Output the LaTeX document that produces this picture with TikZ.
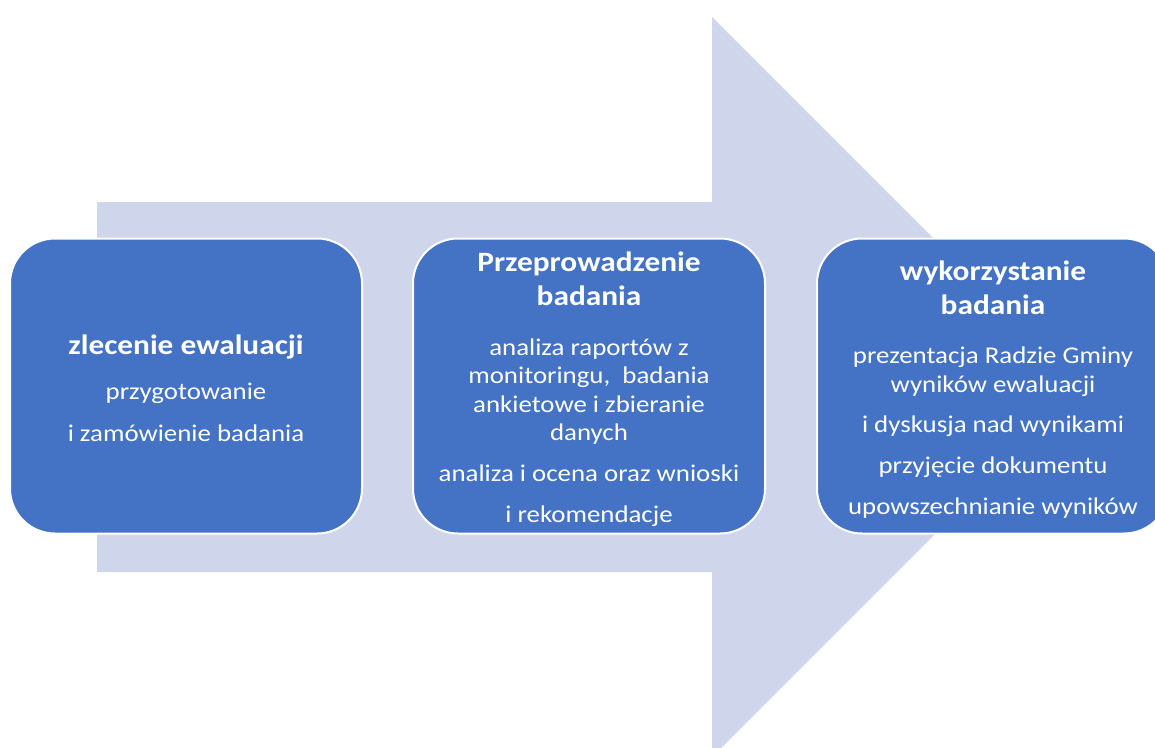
\documentclass[tikz,border=0pt]{standalone}
\usepackage{fontspec}
\setmainfont[FakeStretch=1.12]{Carlito}
\definecolor{arrowbg}{HTML}{CFD5EA}
\definecolor{boxblue}{HTML}{4472C4}
\newcommand{\ttlf}{\bfseries\fontsize{28}{28.5}\selectfont}
\newcommand{\bdyf}{\mdseries\fontsize{24}{28.5}\selectfont}
\tikzset{
  stepbox/.style={draw=white, line width=2pt, fill=boxblue, rounded corners=45pt,
    minimum width=352pt, minimum height=295pt, text=white, align=center, inner sep=0pt,
    font=\bdyf},
}
\begin{document}
\begin{tikzpicture}[x=1pt,y=-1pt]
\useasboundingbox (0,0) rectangle (1155,747);
\clip (0,0) rectangle (1155,747);
\fill[arrowbg] (97,202) -- (712,202) -- (712,17) -- (1082,387) -- (712,757) -- (712,572) -- (97,572) -- cycle;
\node[stepbox] (b1) at (186,386) {};
\node[stepbox] (b2) at (589,386) {};
\node[stepbox] (b3) at (993,386) {};
\node[align=center, text=white, font=\bdyf, inner sep=0pt] (t1) at (186,388) {{\ttlf zlecenie ewaluacji}\\[16.5pt]
  przygotowanie\\[13.5pt]
  i zamówienie badania};
\node[align=center, text=white, font=\bdyf, inner sep=0pt] (t2) at (589,389) {{\ttlf Przeprowadzenie}\\[5pt] {\ttlf badania}\\[21.5pt]
  analiza raportów z\\ monitoringu,\ \ badania\\ ankietowe i zbieranie\\ danych\\[12.5pt]
  analiza i ocena oraz wnioski\\[12pt]
  i rekomendacje};
\node[align=center, text=white, font=\bdyf, inner sep=0pt] (t3) at (993,389.5) {{\ttlf wykorzystanie}\\[5.5pt] {\ttlf badania}\\[20.5pt]
  prezentacja Radzie Gminy\\ wyników ewaluacji\\[12pt]
  i dyskusja nad wynikami\\[12.5pt]
  przyjęcie dokumentu\\[12pt]
  upowszechnianie wyników};
\end{tikzpicture}
\end{document}
